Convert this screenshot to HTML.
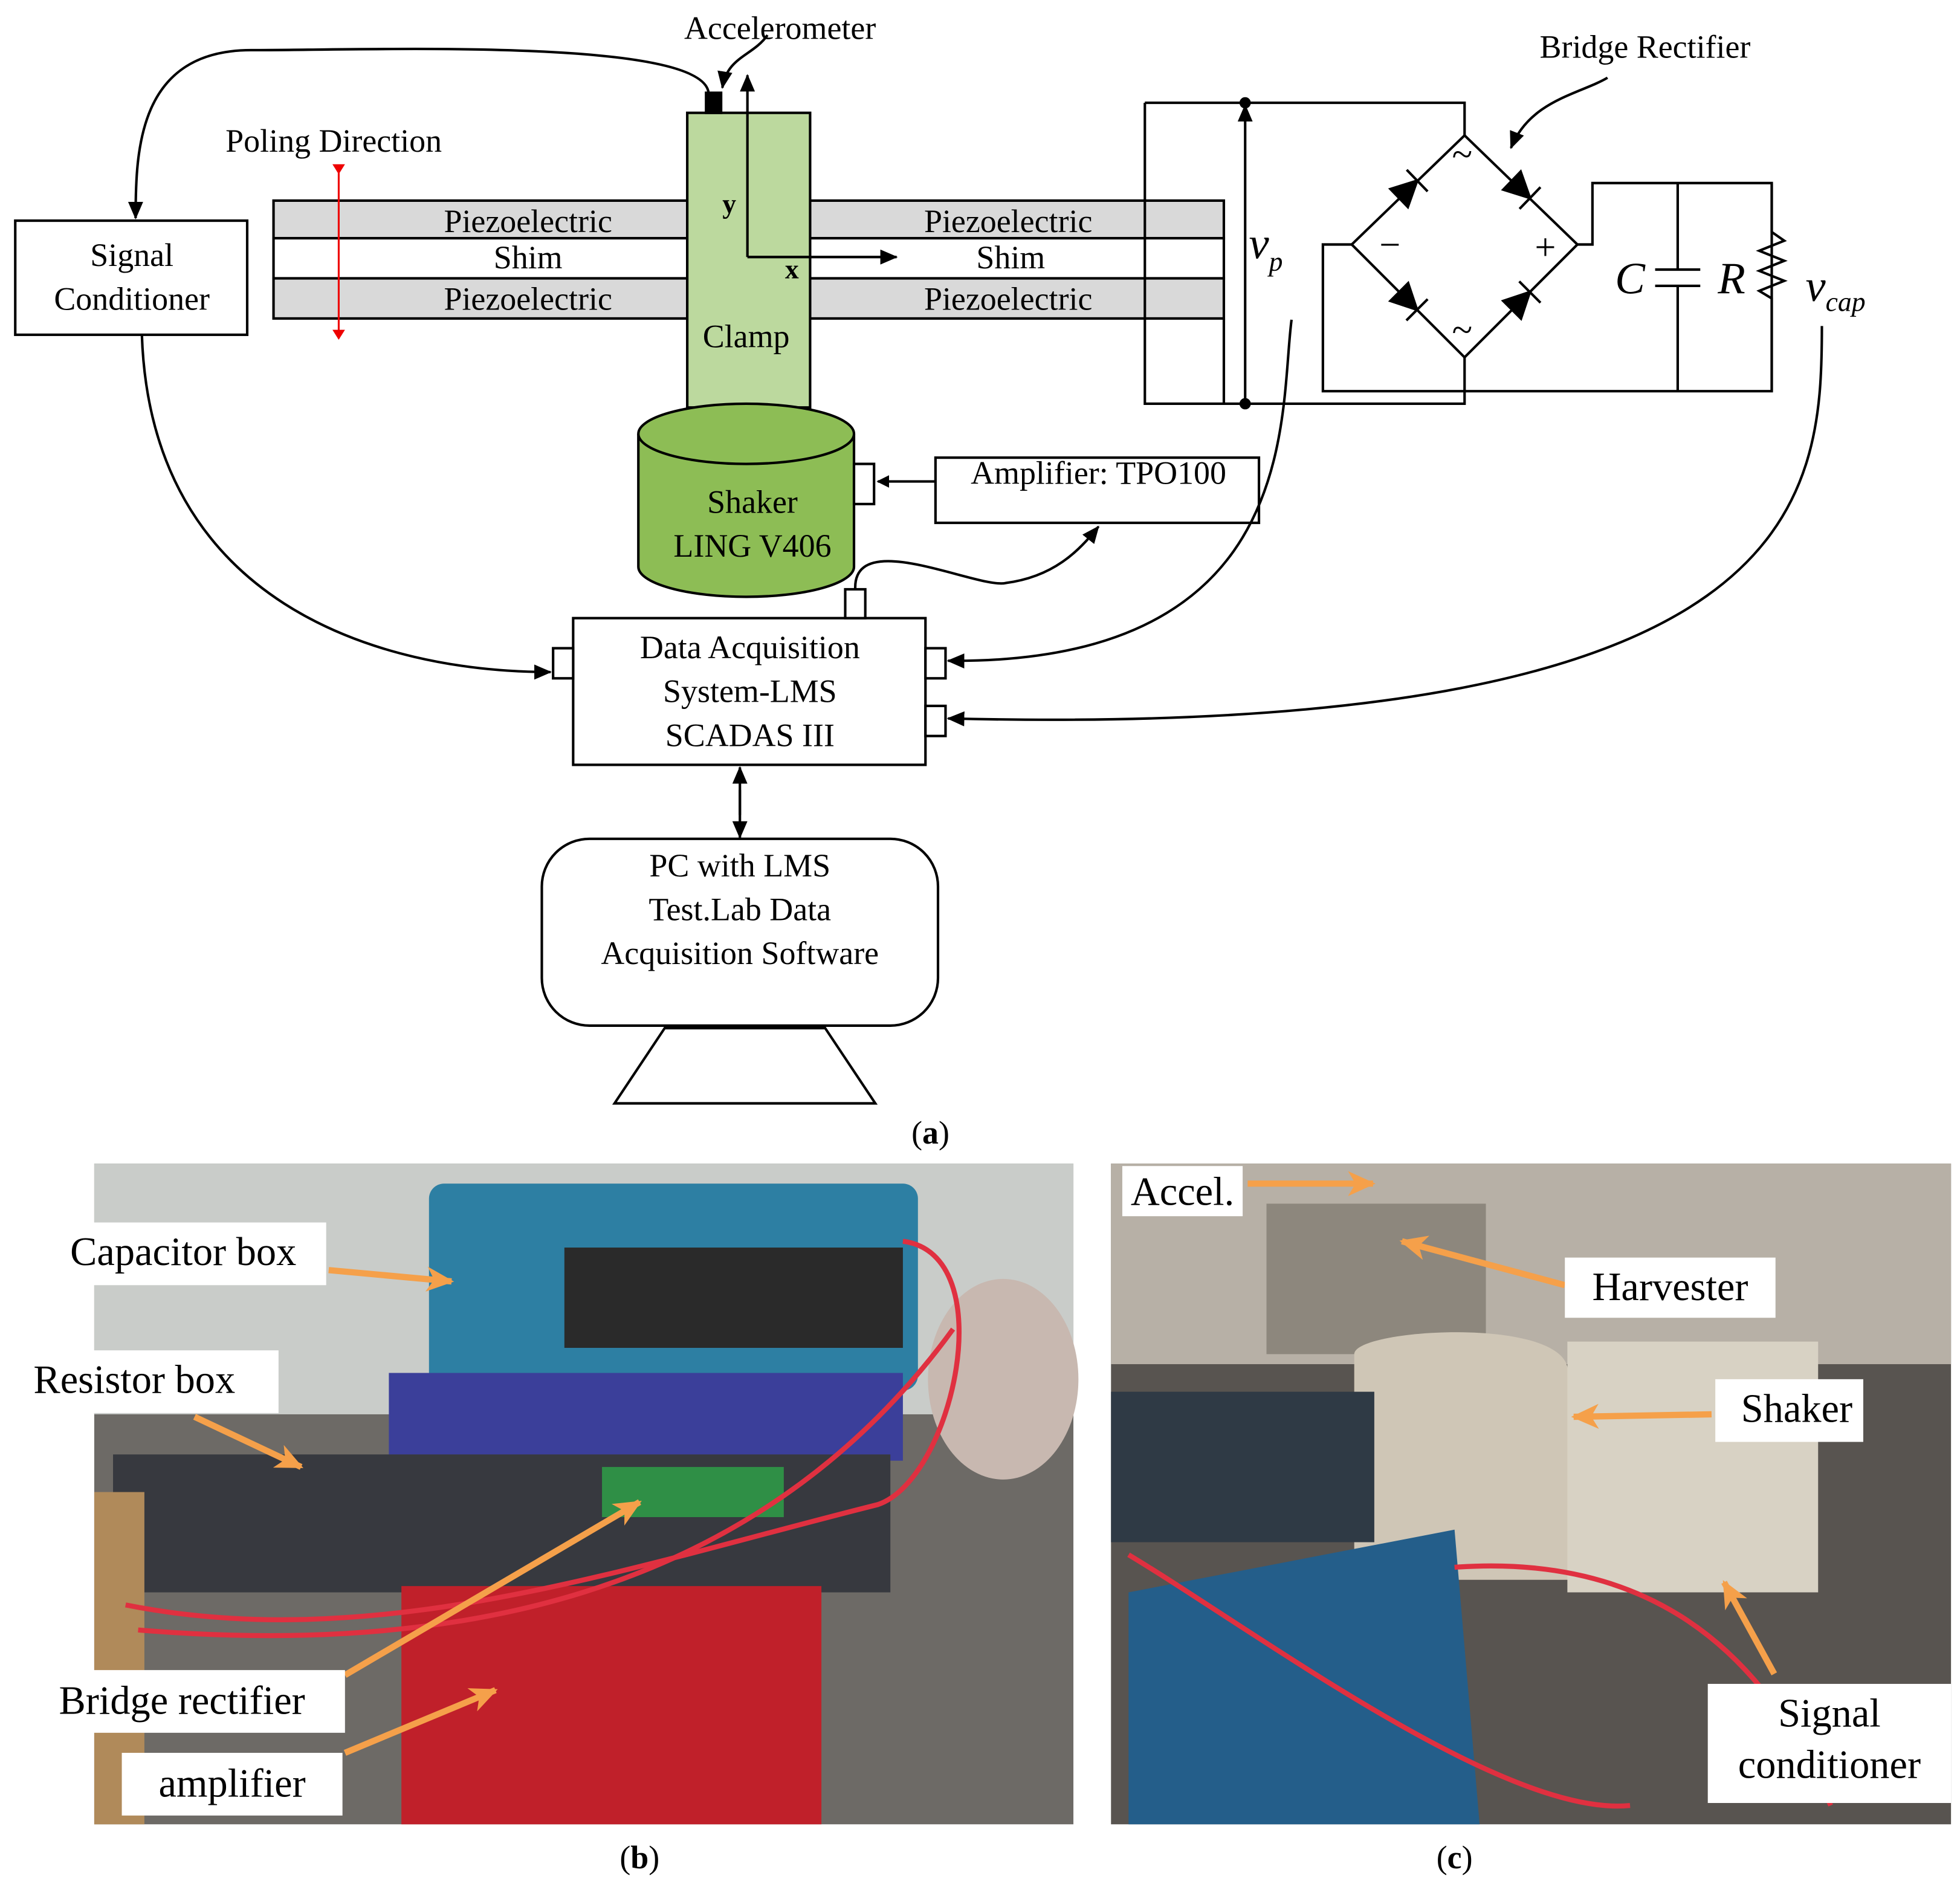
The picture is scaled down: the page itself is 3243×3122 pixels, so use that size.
<!DOCTYPE html>
<html><head><meta charset="utf-8"><style>
html,body{margin:0;padding:0;background:#fff}
svg{display:block}
text{font-family:"Liberation Serif","DejaVu Serif",serif;fill:#000}
</style></head><body>
<svg width="3243" height="3122" viewBox="0 0 1563 1505" xmlns="http://www.w3.org/2000/svg" font-family="Liberation Serif, DejaVu Serif, serif">
<defs>
<marker id="a" markerWidth="10" markerHeight="10" refX="9" refY="5" orient="auto" markerUnits="userSpaceOnUse"><path d="M0,0 L10,5 L0,10 z" fill="#000"/></marker>
<marker id="a2" markerWidth="14" markerHeight="12" refX="13" refY="6" orient="auto" markerUnits="userSpaceOnUse"><path d="M0,0 L14,6 L0,12 z" fill="#000"/></marker>
<marker id="r" markerWidth="8" markerHeight="10" refX="7" refY="5" orient="auto" markerUnits="userSpaceOnUse"><path d="M0,0 L8,5 L0,10 z" fill="#e00"/></marker>
<marker id="o" markerWidth="22" markerHeight="20" refX="20" refY="10" orient="auto" markerUnits="userSpaceOnUse"><path d="M0,0 L22,10 L0,20 L6,10 z" fill="#f5a04a"/></marker>
</defs>
<g stroke="#000" stroke-width="2" fill="none">
<rect x="218" y="160" width="330" height="30" fill="#d9d9d9"/>
<rect x="218" y="190" width="330" height="32" fill="#fff"/>
<rect x="218" y="222" width="330" height="32" fill="#d9d9d9"/>
<rect x="646" y="160" width="330" height="30" fill="#d9d9d9"/>
<rect x="646" y="190" width="330" height="32" fill="#fff"/>
<rect x="646" y="222" width="330" height="32" fill="#d9d9d9"/>
<rect x="548" y="90" width="98" height="235" fill="#bcd99e"/>
<rect x="563" y="74" width="12" height="16" fill="#000"/>
<path d="M596,205 V60" marker-end="url(#a2)"/>
<path d="M596,205 H715" marker-end="url(#a2)"/>
<path d="M509,346 V452 A86,24 0 0 0 681,452 V346" fill="#8dbd55"/>
<ellipse cx="595" cy="346" rx="86" ry="24" fill="#8dbd55"/>
<rect x="681" y="370" width="16" height="32" fill="#fff"/>
<path d="M746,384 H700" marker-end="url(#a)"/>
<rect x="746" y="365" width="258" height="52" fill="#fff"/>
<rect x="12" y="176" width="185" height="91" fill="#fff"/>
<path d="M565,74 C560,30 300,40 200,40 C110,40 108,120 108,174" marker-end="url(#a2)"/>
<path d="M612,28 C600,45 580,45 576,70" marker-end="url(#a2)"/>
<rect x="457" y="493" width="281" height="117" fill="#fff"/>
<rect x="441" y="517" width="16" height="24" fill="#fff"/>
<rect x="738" y="517" width="16" height="24" fill="#fff"/>
<rect x="738" y="563" width="16" height="24" fill="#fff"/>
<rect x="674" y="470" width="16" height="23" fill="#fff"/>
<path d="M113,267 C120,480 300,536 439,536" marker-end="url(#a2)"/>
<path d="M682,470 C680,420 780,470 802,465 C840,460 860,440 876,420" marker-end="url(#a2)"/>
<path d="M1030,255 C1020,330 1040,530 756,527" marker-end="url(#a2)"/>
<path d="M1453,260 C1453,400 1440,590 756,573" marker-end="url(#a2)"/>
<path d="M590,630 V668" marker-end="url(#a2)"/>
<path d="M590,650 V612" marker-end="url(#a2)"/>
<rect x="432" y="669" width="316" height="149" rx="38" fill="#fff"/>
<path d="M530,820 L658,820 L698,880 L490,880 Z" fill="#fff"/>
<path d="M976,254 V322 M913,82 H1168 V108 M913,82 V322 H1168 V312"/>
<path d="M993,322 V84" marker-end="url(#a2)"/>
<circle cx="993" cy="82" r="3.5" fill="#000"/>
<circle cx="993" cy="322" r="3.5" fill="#000"/>
<path d="M1168,108 L1258,195 L1168,285 L1078,195 Z"/>
<path d="M1078,195 H1055 V312 H1413 V146 H1270 V195 H1258 M1168,285 V312"/>
<path d="M1338,146 V215 M1320,215 H1356 M1320,228 H1356 M1338,228 V312"/>
<path d="M1413,146 V185 L1423,192 L1403,200 L1423,208 L1403,216 L1423,224 L1403,232 L1413,238 V312"/>
<path d="M1282,62 C1260,75 1220,80 1205,118" marker-end="url(#a2)"/>
</g>
<g fill="#000" stroke="#000" stroke-width="2">
<g transform="translate(1123,151) rotate(-44)"><path d="M-10,-10 L10,0 L-10,10 Z"/><path d="M10,-12 V12"/></g>
<g transform="translate(1213,151) rotate(44)"><path d="M-10,-10 L10,0 L-10,10 Z"/><path d="M10,-12 V12"/></g>
<g transform="translate(1123,240) rotate(45)"><path d="M-10,-10 L10,0 L-10,10 Z"/><path d="M10,-12 V12"/></g>
<g transform="translate(1213,240) rotate(-45)"><path d="M-10,-10 L10,0 L-10,10 Z"/><path d="M10,-12 V12"/></g>
</g>
<path d="M270,138 V270" stroke="#e00" stroke-width="1.5" marker-end="url(#r)" marker-start="url(#r)"/>
<g font-size="26">
<text x="622" y="31" text-anchor="middle">Accelerometer</text>
<text x="266" y="121" text-anchor="middle">Poling Direction</text>
<text x="1312" y="46" text-anchor="middle">Bridge Rectifier</text>
<text x="105" y="212" text-anchor="middle">Signal</text>
<text x="105" y="247" text-anchor="middle">Conditioner</text>
<text x="421" y="185" text-anchor="middle">Piezoelectric</text>
<text x="421" y="214" text-anchor="middle">Shim</text>
<text x="421" y="247" text-anchor="middle">Piezoelectric</text>
<text x="804" y="185" text-anchor="middle">Piezoelectric</text>
<text x="806" y="214" text-anchor="middle">Shim</text>
<text x="804" y="247" text-anchor="middle">Piezoelectric</text>
<text x="595" y="277" text-anchor="middle">Clamp</text>
<text x="600" y="409" text-anchor="middle">Shaker</text>
<text x="600" y="444" text-anchor="middle">LING V406</text>
<text x="876" y="386" text-anchor="middle">Amplifier: TPO100</text>
<text x="598" y="525" text-anchor="middle">Data Acquisition</text>
<text x="598" y="560" text-anchor="middle">System-LMS</text>
<text x="598" y="595" text-anchor="middle">SCADAS III</text>
<text x="590" y="699" text-anchor="middle">PC with LMS</text>
<text x="590" y="734" text-anchor="middle">Test.Lab Data</text>
<text x="590" y="769" text-anchor="middle">Acquisition Software</text>
<text x="742" y="912" text-anchor="middle">(<tspan font-weight="bold">a</tspan>)</text>
<text x="510" y="1490" text-anchor="middle">(<tspan font-weight="bold">b</tspan>)</text>
<text x="1160" y="1490" text-anchor="middle">(<tspan font-weight="bold">c</tspan>)</text>
</g>
<g font-size="22" font-weight="bold"><text x="576" y="170">y</text><text x="626" y="222">x</text></g>
<g font-size="36" font-style="italic">
<text x="996" y="206">v<tspan font-size="22" dy="10">p</tspan></text>
<text x="1288" y="234">C</text><text x="1370" y="234">R</text>
<text x="1440" y="240">v<tspan font-size="22" dy="8">cap</tspan></text>
</g>
<g font-size="30"><text x="1100" y="205">−</text><text x="1224" y="207">+</text><text x="1158" y="133">~</text><text x="1158" y="273">~</text></g>
<rect x="75" y="928" width="781" height="527" fill="#6d6a66"/>
<rect x="75" y="928" width="781" height="200" fill="#c9ccc9"/>
<rect x="342" y="944" width="390" height="165" rx="12" fill="#2d7fa3"/>
<rect x="450" y="995" width="270" height="80" fill="#2a2a2a"/>
<rect x="310" y="1095" width="410" height="70" fill="#3b3f9a"/>
<rect x="90" y="1160" width="620" height="110" fill="#37393f"/>
<rect x="320" y="1265" width="335" height="190" fill="#c0202a"/>
<rect x="480" y="1170" width="145" height="40" fill="#2f8f46"/>
<rect x="75" y="1190" width="40" height="265" fill="#b08a5a"/>
<ellipse cx="800" cy="1100" rx="60" ry="80" fill="#c8b8b0"/>
<g fill="none" stroke="#e03040" stroke-width="4"><path d="M100,1280 C300,1320 500,1250 700,1200 C760,1180 800,1000 720,990"/><path d="M110,1300 C350,1320 600,1280 760,1060"/></g>
<rect x="886" y="928" width="670" height="527" fill="#585450"/>
<rect x="886" y="928" width="670" height="160" fill="#b7b0a6"/>
<rect x="1010" y="960" width="175" height="120" fill="#8d877d"/>
<path d="M1080,1080 C1080,1060 1240,1050 1250,1090 L1260,1260 L1080,1260 Z" fill="#cfc6b6"/>
<rect x="886" y="1110" width="210" height="120" fill="#2f3a45"/>
<rect x="1250" y="1070" width="200" height="200" fill="#d8d2c4"/>
<path d="M900,1270 L1160,1220 L1180,1455 L900,1455 Z" fill="#245e8a"/>
<g fill="none" stroke="#e03040" stroke-width="4"><path d="M900,1240 C1000,1300 1200,1450 1300,1440"/><path d="M1160,1250 C1300,1240 1400,1300 1460,1440"/></g>
<g stroke="#f5a04a" stroke-width="5" fill="none">
<path d="M262,1013 L360,1022" marker-end="url(#o)"/>
<path d="M155,1130 L240,1170" marker-end="url(#o)"/>
<path d="M275,1336 L510,1198" marker-end="url(#o)"/>
<path d="M275,1398 L395,1348" marker-end="url(#o)"/>
<path d="M995,944 L1095,944" marker-end="url(#o)"/>
<path d="M1248,1025 L1118,990" marker-end="url(#o)"/>
<path d="M1365,1128 L1255,1130" marker-end="url(#o)"/>
<path d="M1415,1335 L1375,1262" marker-end="url(#o)"/>
</g>
<g fill="#fff">
<rect x="37" y="975" width="223" height="50"/><rect x="12" y="1077" width="210" height="50"/>
<rect x="27" y="1332" width="248" height="50"/><rect x="97" y="1398" width="176" height="50"/>
<rect x="895" y="930" width="96" height="40"/><rect x="1248" y="1003" width="168" height="48"/>
<rect x="1368" y="1100" width="118" height="50"/><rect x="1362" y="1343" width="194" height="95"/>
</g>
<g font-size="32">
<text x="146" y="1009" text-anchor="middle">Capacitor box</text>
<text x="107" y="1111" text-anchor="middle">Resistor box</text>
<text x="145" y="1367" text-anchor="middle">Bridge rectifier</text>
<text x="185" y="1433" text-anchor="middle">amplifier</text>
<text x="943" y="961" text-anchor="middle">Accel.</text>
<text x="1332" y="1037" text-anchor="middle">Harvester</text>
<text x="1433" y="1134" text-anchor="middle">Shaker</text>
<text x="1459" y="1377" text-anchor="middle">Signal</text>
<text x="1459" y="1418" text-anchor="middle">conditioner</text>
</g>
</svg>
</body></html>
